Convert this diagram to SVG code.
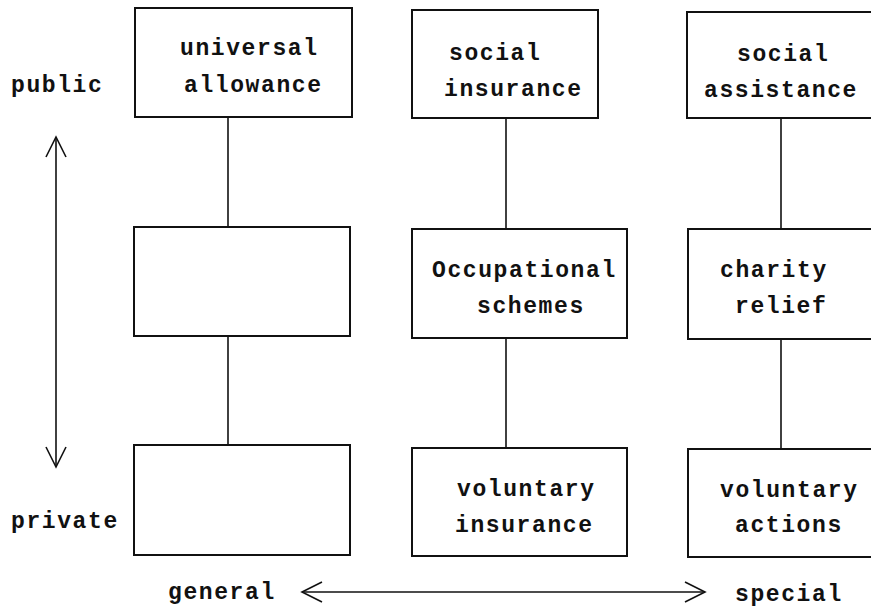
<svg xmlns="http://www.w3.org/2000/svg" width="871" height="611" viewBox="0 0 871 611">
<style>
.box{fill:#fff;stroke:#111;stroke-width:2}
.ln{stroke:#111;stroke-width:1.6;fill:none}
.t{font-family:"Liberation Mono","Courier New",monospace;font-weight:bold;font-size:23px;letter-spacing:1.6px;fill:#111}
</style>
<defs>
<marker id="ah" markerUnits="userSpaceOnUse" markerWidth="24" markerHeight="24" viewBox="0 0 24 24" refX="22" refY="12" orient="auto-start-reverse">
<path d="M2,2 L22,12 L2,22" fill="none" stroke="#111" stroke-width="1.6"/>
</marker>
</defs>
<rect width="871" height="611" fill="#fff"/>
<g id="connectors">
<line class="ln" x1="228" y1="117" x2="228" y2="227"/>
<line class="ln" x1="228" y1="336" x2="228" y2="445"/>
<line class="ln" x1="506" y1="118" x2="506" y2="229"/>
<line class="ln" x1="506" y1="338" x2="506" y2="448"/>
<line class="ln" x1="781" y1="118" x2="781" y2="229"/>
<line class="ln" x1="781" y1="339" x2="781" y2="449"/>
<line class="ln" x1="56" y1="137" x2="56" y2="467" marker-start="url(#ah)" marker-end="url(#ah)"/>
<line class="ln" x1="302" y1="592" x2="705" y2="592" marker-start="url(#ah)" marker-end="url(#ah)"/>
</g>
<g id="axis-labels">
<text class="t" x="11" y="92">public</text>
<text class="t" x="11" y="528">private</text>
<text class="t" x="168" y="599">general</text>
<text class="t" x="735" y="601">special</text>
</g>
<g id="universal-allowance">
<rect class="box" x="135" y="8" width="217" height="109"/>
<text class="t" x="180" y="55">universal</text>
<text class="t" x="184" y="92">allowance</text>
</g>
<g id="social-insurance">
<rect class="box" x="412" y="10" width="186" height="108"/>
<text class="t" x="449" y="60">social</text>
<text class="t" x="444" y="96">insurance</text>
</g>
<g id="social-assistance">
<rect class="box" x="687" y="12" width="216" height="106"/>
<text class="t" x="737" y="61">social</text>
<text class="t" x="704" y="97">assistance</text>
</g>
<g id="empty-middle">
<rect class="box" x="134" y="227" width="216" height="109"/>
</g>
<g id="occupational-schemes">
<rect class="box" x="412" y="229" width="215" height="109"/>
<text class="t" x="432" y="277">Occupational</text>
<text class="t" x="477" y="313">schemes</text>
</g>
<g id="charity-relief">
<rect class="box" x="688" y="229" width="216" height="110"/>
<text class="t" x="720" y="277">charity</text>
<text class="t" x="735" y="313">relief</text>
</g>
<g id="empty-bottom">
<rect class="box" x="134" y="445" width="216" height="110"/>
</g>
<g id="voluntary-insurance">
<rect class="box" x="412" y="448" width="215" height="108"/>
<text class="t" x="457" y="496">voluntary</text>
<text class="t" x="455" y="532">insurance</text>
</g>
<g id="voluntary-actions">
<rect class="box" x="688" y="449" width="216" height="108"/>
<text class="t" x="720" y="497">voluntary</text>
<text class="t" x="735" y="532">actions</text>
</g>
</svg>
